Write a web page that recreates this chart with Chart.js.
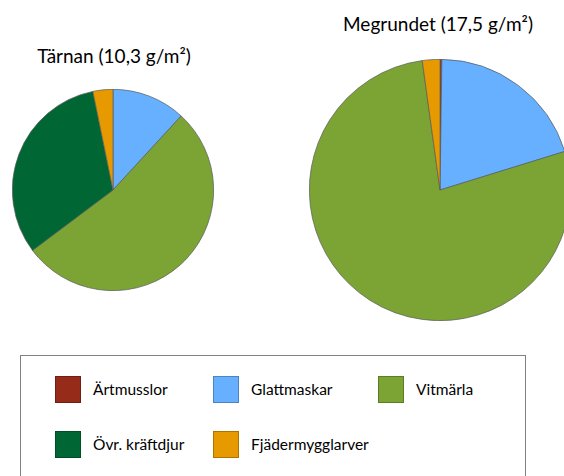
<!DOCTYPE html>
<html>
<head>
    <title>Tärnan och Megrundet</title>
    <script src="https://cdn.jsdelivr.net/npm/chart.js"></script>
    <style>
        body {
            margin: 0;
            width: 564px;
            height: 476px;
            overflow: hidden;
            position: relative;
            background: #fff;
            font-family: Lato, "Open Sans", sans-serif;
            color: #000;
        }
        .title {
            position: absolute;
            font-size: 19px;
            white-space: nowrap;
            transform: translate(-50%, -50%);
        }
        .pie {
            position: absolute;
        }
        #legend {
            position: absolute;
            left: 20px;
            top: 355px;
            width: 504px;
            height: 140px;
            border: 1px solid #808080;
        }
        .item {
            position: absolute;
            height: 26px;
            display: flex;
            align-items: center;
            font-size: 15.5px;
            white-space: nowrap;
        }
        .swatch {
            width: 24px;
            height: 25px;
            margin-right: 12px;
            border: 1px solid rgba(0,0,0,0.25);
        }
    </style>
</head>
<body>
    <div class="title" style="left:114px; top:55px;">Tärnan (10,3 g/m²)</div>
    <div class="title" style="left:438px; top:23px;">Megrundet (17,5 g/m²)</div>

    <div class="pie" style="left:12px; top:89px; width:202px; height:202px;">
        <canvas id="tarnanChart"></canvas>
    </div>
    <div class="pie" style="left:309px; top:59px; width:262px; height:262px;">
        <canvas id="megrundetChart"></canvas>
    </div>

    <div id="legend"></div>

    <script>
        // Biomassa (g/m2) per grupp
        const groups = ["Ärtmusslor", "Glattmaskar", "Vitmärla", "Övr. kräftdjur", "Fjädermygglarver"];
        const colors = ["#962B19", "#66B0FF", "#7BA435", "#006633", "#E69A00"];
        const tarnan = [0, 1.22, 5.45, 3.30, 0.33];
        const megrundet = [0.04, 3.50, 13.58, 0, 0.38];

        function pie(id, values) {
            const ctx = document.getElementById(id).getContext('2d');
            return new Chart(ctx, {
                type: 'pie',
                data: {
                    labels: groups,
                    datasets: [{
                        data: values,
                        backgroundColor: colors,
                        borderColor: '#5a5a5a',
                        borderWidth: 0.7
                    }]
                },
                options: {
                    responsive: true,
                    maintainAspectRatio: false,
                    animation: false,
                    layout: { padding: 0 },
                    plugins: {
                        legend: { display: false },
                        tooltip: { enabled: false }
                    }
                }
            });
        }

        pie("tarnanChart", tarnan);
        pie("megrundetChart", megrundet);

        // legend, three per row
        const legend = document.getElementById("legend");
        const colX = [34, 192, 357];
        const rowY = [20, 75];
        groups.forEach(function (g, i) {
            const item = document.createElement("div");
            item.className = "item";
            item.style.left = colX[i % 3] + "px";
            item.style.top = rowY[Math.floor(i / 3)] + "px";
            item.innerHTML = '<span class="swatch" style="background:' + colors[i] + '"></span>' + g;
            legend.appendChild(item);
        });
    </script>
</body>
</html>
